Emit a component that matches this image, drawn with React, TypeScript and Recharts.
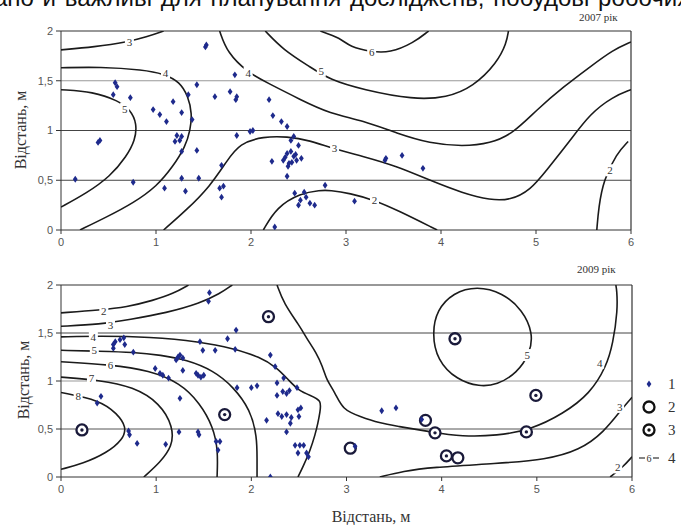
import React from 'react';
import { ScatterChart, Scatter, XAxis, YAxis, ReferenceLine } from 'recharts';

type Pt = { x: number; y: number };
type Lbl = { x: number; y: number; text: string };

const toPts = (arr: number[][]): Pt[] => arr.map(([x, y]) => ({ x, y }));
const toLbls = (arr: [number, number, string][]): Lbl[] => arr.map(([x, y, text]) => ({ x, y, text }));

const xTicks = [0, 1, 2, 3, 4, 5, 6];
const yTicks = [0, 0.5, 1, 1.5, 2];

// 2007: isolines
const iso07_3a = toPts([[0, 1.81], [0.35, 1.84], [0.7, 1.89], [0.9, 1.94], [1.08, 2]]);
const iso07_4a = toPts([
  [0, 1.63], [0.41, 1.64], [0.87, 1.61], [1.08, 1.57], [1.25, 1.49], [1.34, 1.34], [1.38, 1.17],
  [1.36, 1.0], [1.31, 0.84], [1.18, 0.64], [1.01, 0.44], [0.76, 0.27], [0.48, 0.13], [0.2, 0],
]);
const iso07_5a = toPts([
  [0, 1.41], [0.34, 1.39], [0.6, 1.3], [0.73, 1.21], [0.8, 1.07], [0.78, 0.9], [0.69, 0.74],
  [0.52, 0.54], [0.27, 0.37], [0, 0.23],
]);
const iso07_3b = toPts([
  [1.08, 0], [1.32, 0.2], [1.57, 0.44], [1.75, 0.7], [1.88, 0.87], [2.13, 0.94], [2.38, 0.94],
  [2.62, 0.9], [2.86, 0.82], [3.18, 0.74], [3.54, 0.64], [3.88, 0.5], [4.23, 0.37], [4.52, 0.3],
  [4.73, 0.3], [4.94, 0.4], [5.11, 0.6], [5.36, 0.9], [5.57, 1.17], [5.81, 1.34], [6, 1.41],
]);
const iso07_2a = toPts([
  [2.13, 0], [2.27, 0.23], [2.52, 0.37], [2.73, 0.4], [2.83, 0.4], [3.04, 0.37], [3.3, 0.3],
  [3.54, 0.2], [3.96, 0],
]);
const iso07_4b = toPts([
  [1.67, 2], [1.75, 1.78], [1.97, 1.58], [2.17, 1.48], [2.52, 1.31], [2.83, 1.17], [3.18, 1.1],
  [3.54, 0.97], [3.88, 0.87], [4.23, 0.84], [4.52, 0.87], [4.76, 0.97], [5.01, 1.21], [5.29, 1.44],
  [5.57, 1.64], [5.81, 1.81], [6, 1.89],
]);
const iso07_5b = toPts([
  [2.15, 2], [2.34, 1.81], [2.62, 1.64], [2.83, 1.51], [3.18, 1.41], [3.71, 1.31], [4.06, 1.33],
  [4.34, 1.44], [4.59, 1.68], [4.69, 1.88], [4.71, 2],
]);
const iso07_6 = toPts([
  [2.73, 2], [2.94, 1.93], [3.04, 1.84], [3.27, 1.79], [3.46, 1.78], [3.71, 1.88], [3.87, 2],
]);
const iso07_2b = toPts([[5.64, 0], [5.66, 0.23], [5.71, 0.5], [5.85, 0.77], [5.97, 0.89]]);

const labels07 = toLbls([
  [0.72, 1.89, '3'], [1.1, 1.58, '4'], [0.67, 1.22, '5'], [1.97, 1.58, '4'], [2.74, 1.6, '5'],
  [2.88, 0.82, '3'], [3.27, 1.79, '6'], [3.3, 0.3, '2'], [5.78, 0.6, '2'],
]);

const points07 = toPts([
  [0.15, 0.51], [0.39, 0.88], [0.41, 0.9], [0.57, 1.48], [0.59, 1.44], [0.55, 1.36], [0.73, 1.33],
  [0.76, 0.48], [0.97, 1.21], [1.04, 1.16], [1.11, 1.09], [1.18, 1.29], [1.27, 1.18], [1.34, 1.36],
  [1.43, 1.46], [1.38, 1.11], [1.22, 0.95], [1.2, 0.89], [1.27, 0.94], [1.25, 0.9], [1.27, 0.79],
  [1.43, 0.8], [1.09, 0.42], [1.27, 0.52], [1.31, 0.39], [1.45, 0.52], [1.52, 1.84], [1.53, 1.86],
  [1.62, 1.34], [1.69, 0.65], [1.67, 0.42], [1.71, 0.44], [1.69, 0.33], [1.83, 1.56], [1.78, 1.39],
  [1.85, 1.34], [1.84, 1.31], [1.85, 0.95], [1.99, 0.99], [2.02, 1.0], [2.19, 1.31], [2.23, 1.15],
  [2.22, 0.69], [2.25, 0.03], [2.32, 1.09], [2.38, 1.04], [2.45, 0.94], [2.5, 0.85], [2.42, 0.9],
  [2.38, 0.77], [2.45, 0.74], [2.34, 0.7], [2.39, 0.64], [2.48, 0.7], [2.53, 0.72], [2.42, 0.79],
  [2.36, 0.73], [2.43, 0.68], [2.4, 0.67], [2.47, 0.76], [2.38, 0.54], [2.46, 0.37], [2.52, 0.3],
  [2.56, 0.38], [2.5, 0.25], [2.62, 0.27], [2.67, 0.25], [2.58, 0.33], [2.78, 0.45], [3.41, 0.7],
  [3.42, 0.72], [3.59, 0.75], [3.81, 0.62], [3.09, 0.29],
]);

// 2009: isolines
const iso09_2a = toPts([[0, 1.71], [0.41, 1.74], [0.69, 1.77], [0.97, 1.84], [1.18, 1.91], [1.34, 2]]);
const iso09_3a = toPts([[0, 1.57], [0.41, 1.59], [0.72, 1.64], [1.11, 1.71], [1.46, 1.81], [1.67, 1.91], [1.8, 2]]);
const iso09_4a = toPts([
  [0, 1.46], [0.41, 1.47], [0.93, 1.46], [1.46, 1.41], [1.81, 1.34], [2.09, 1.25], [2.27, 1.14],
  [2.4, 1.0], [2.5, 0.9], [2.62, 0.85], [2.74, 0.8], [2.72, 0.67], [2.7, 0.56], [2.67, 0.44],
  [2.62, 0.28], [2.54, 0.1], [2.49, 0],
]);
const iso09_5a = toPts([
  [0, 1.32], [0.4, 1.31], [0.76, 1.3], [1.05, 1.27], [1.32, 1.22], [1.6, 1.11], [1.81, 0.94],
  [1.99, 0.7], [2.06, 0.42], [2.06, 0.18], [2.06, 0],
]);
const iso09_6 = toPts([
  [0, 1.2], [0.52, 1.17], [0.93, 1.11], [1.25, 0.98], [1.46, 0.77], [1.6, 0.52], [1.65, 0.28], [1.64, 0],
]);
const iso09_7 = toPts([
  [0, 1.04], [0.4, 1.01], [0.76, 0.94], [1.04, 0.77], [1.18, 0.52], [1.17, 0.32], [1.04, 0.15], [0.87, 0],
]);
const iso09_8 = toPts([
  [0, 0.88], [0.41, 0.8], [0.59, 0.66], [0.69, 0.52], [0.65, 0.39], [0.48, 0.25], [0.23, 0.14], [0, 0.08],
]);
const iso09_4b = toPts([
  [2.27, 2], [2.34, 1.81], [2.51, 1.57], [2.59, 1.43], [2.68, 1.3], [2.75, 1.15], [2.79, 1.01],
  [2.88, 0.88], [2.96, 0.7], [3.14, 0.63], [3.35, 0.56], [3.53, 0.53], [3.88, 0.47], [4.22, 0.42],
  [4.58, 0.43], [4.93, 0.49], [5.28, 0.66], [5.56, 0.87], [5.73, 1.15], [5.8, 1.39], [5.85, 1.74],
  [5.84, 1.95], [5.83, 2],
]);
const iso09_5ring = toPts([
  [4.37, 1.99], [4.64, 1.92], [4.85, 1.74], [4.96, 1.5], [4.93, 1.29], [4.79, 1.08], [4.58, 0.96],
  [4.4, 0.94], [4.16, 1.01], [3.95, 1.22], [3.9, 1.5], [3.95, 1.74], [4.12, 1.92],
]);
const iso09_3b = toPts([
  [3.35, 0], [3.6, 0.06], [3.88, 0.1], [4.58, 0.14], [5.1, 0.18], [5.45, 0.28], [5.7, 0.46],
  [5.91, 0.73], [6, 0.83],
]);
const iso09_2b = toPts([[5.77, 0], [5.9, 0.1], [6, 0.21]]);

const labels09 = toLbls([
  [0.45, 1.73, '2'], [0.52, 1.58, '3'], [0.34, 1.46, '4'], [0.35, 1.32, '5'], [0.52, 1.17, '6'],
  [0.32, 1.03, '7'], [0.18, 0.84, '8'], [4.9, 1.27, '5'], [5.66, 1.19, '4'], [5.87, 0.73, '3'],
  [5.85, 0.1, '2'],
]);

const points09 = toPts([
  [0.42, 0.84], [0.38, 0.77], [0.55, 1.38], [0.57, 1.41], [0.62, 1.43], [0.66, 1.45], [0.67, 1.38],
  [0.55, 1.34], [0.76, 1.3], [0.72, 0.44], [0.71, 0.48], [0.8, 0.35], [0.99, 1.13], [1.04, 1.08],
  [1.07, 1.06], [1.13, 1.03], [1.1, 0.34], [1.21, 1.22], [1.25, 1.27], [1.23, 1.25], [1.28, 1.24],
  [1.28, 1.11], [1.25, 0.82], [1.24, 0.47], [1.44, 1.06], [1.47, 1.04], [1.42, 1.08], [1.5, 1.06],
  [1.46, 1.41], [1.49, 1.32], [1.45, 0.44], [1.44, 0.47], [1.55, 1.83], [1.56, 1.92], [1.62, 1.32],
  [1.63, 0.37], [1.67, 0.37], [1.65, 0.28], [1.75, 1.44], [1.84, 1.53], [1.83, 1.33], [1.85, 0.93],
  [2.0, 0.93], [2.06, 0.95], [2.2, 1.27], [2.16, 0.59], [2.2, 0.0], [2.25, 1.15], [2.27, 0.98],
  [2.34, 1.03], [2.27, 0.85], [2.33, 0.89], [2.37, 0.87], [2.4, 0.9], [2.48, 0.93], [2.28, 0.66],
  [2.32, 0.63], [2.37, 0.65], [2.42, 0.62], [2.49, 0.7], [2.52, 0.72], [2.5, 0.63], [2.41, 0.56],
  [2.37, 0.47], [2.46, 0.33], [2.51, 0.33], [2.55, 0.33], [2.49, 0.25], [2.58, 0.25], [2.6, 0.21],
  [3.37, 0.69], [3.52, 0.72], [3.79, 0.6], [3.09, 0.32],
]);

// 2009: wells (open rings) and wells with centre mark
const rings09 = toPts([[4.17, 0.2], [3.83, 0.59], [3.04, 0.3]]);
const markedRings09 = toPts([
  [0.22, 0.49], [1.72, 0.65], [2.18, 1.67], [4.14, 1.44], [4.99, 0.85], [3.93, 0.46], [4.05, 0.22], [4.89, 0.47],
]);

const INK = '#1b1b1b';
const BLUE = '#1e2a8c';
const SERIF = '"Liberation Serif", "DejaVu Serif", serif';
const SANS = '"Liberation Sans", Arial, sans-serif';

const NoDot = () => <g />;

const Star = (p: any) => {
  const { cx, cy } = p;
  return (
    <path
      d={`M${cx},${cy - 3.4}L${cx + 2.4},${cy}L${cx},${cy + 3.4}L${cx - 2.4},${cy}Z`}
      fill={BLUE}
    />
  );
};

const Ring = (p: any) => (
  <circle cx={p.cx} cy={p.cy} r={5.5} fill="#fff" stroke="#1a1a3a" strokeWidth={2.3} />
);

const MarkedRing = (p: any) => (
  <g>
    <circle cx={p.cx} cy={p.cy} r={5.5} fill="#fff" stroke="#1a1a3a" strokeWidth={2.3} />
    <circle cx={p.cx} cy={p.cy} r={1.7} fill="#1a1a3a" />
  </g>
);

const IsoLabel = (p: any) => {
  const { cx, cy, payload } = p;
  return (
    <g>
      <rect x={cx - 4.5} y={cy - 6} width={9} height={12} fill="#fff" />
      <text x={cx} y={cy + 4} textAnchor="middle" fontSize={11} fontFamily={SERIF} fill="#333">
        {payload.text}
      </text>
    </g>
  );
};

const fmtY = (v: number) => String(v).replace('.', ',');

interface PanelProps {
  height: number;
  top: number;
  right: number;
  isolines: Pt[][];
  closed?: Pt[][];
  labels: Lbl[];
  points: Pt[];
  rings?: Pt[];
  markedRings?: Pt[];
  gridShade: string[];
}

function Panel({ height, top, right, isolines, closed = [], labels, points, rings = [], markedRings = [], gridShade }: PanelProps) {
  return (
    <ScatterChart width={681} height={height} margin={{ top, right, bottom: 0, left: 16 }}>
      <XAxis
        type="number"
        dataKey="x"
        domain={[0, 6]}
        ticks={xTicks}
        height={29}
        tickSize={4}
        tickMargin={4}
        stroke="#333"
        tick={{ fontSize: 11, fill: '#555', fontFamily: SANS }}
        allowDataOverflow
      />
      <YAxis
        type="number"
        dataKey="y"
        domain={[0, 2]}
        ticks={yTicks}
        width={45}
        tickSize={5}
        tickMargin={3}
        stroke="#333"
        tickFormatter={fmtY}
        tick={{ fontSize: 11, fill: '#555', fontFamily: SANS }}
        allowDataOverflow
      />
      <ReferenceLine y={0.5} stroke={gridShade[0]} strokeWidth={1} />
      <ReferenceLine y={1} stroke={gridShade[1]} strokeWidth={1} />
      <ReferenceLine y={1.5} stroke={gridShade[2]} strokeWidth={1} />
      <ReferenceLine y={2} stroke="#333" strokeWidth={1.2} />
      <ReferenceLine x={6} stroke="#333" strokeWidth={1.2} />
      {isolines.map((d, i) => (
        <Scatter
          key={`iso${i}`}
          data={d}
          line={{ stroke: INK, strokeWidth: 1.6 }}
          lineType="joint"
          lineJointType="basis"
          shape={NoDot}
          isAnimationActive={false}
        />
      ))}
      {closed.map((d, i) => (
        <Scatter
          key={`cl${i}`}
          data={d}
          line={{ stroke: INK, strokeWidth: 1.6 }}
          lineType="joint"
          lineJointType="basisClosed"
          shape={NoDot}
          isAnimationActive={false}
        />
      ))}
      <Scatter data={labels} shape={IsoLabel} isAnimationActive={false} />
      <Scatter data={rings} shape={Ring} isAnimationActive={false} />
      <Scatter data={markedRings} shape={MarkedRing} isAnimationActive={false} />
      <Scatter data={points} shape={Star} isAnimationActive={false} />
    </ScatterChart>
  );
}

const abs = (left: number, top: number): React.CSSProperties => ({ position: 'absolute', left, top });

export default function App() {
  return (
    <div style={{ position: 'absolute', left: 0, top: 0, width: 681, height: 525, background: '#fff', overflow: 'hidden' }}>
      {/* tail of the paragraph above the figure, clipped by the page edge */}
      <div
        style={{
          ...abs(-6, -14),
          fontFamily: SANS,
          fontSize: 24,
          lineHeight: '24px',
          wordSpacing: 2,
          whiteSpace: 'nowrap',
          color: '#111',
        }}
      >
        ано й важливі для планування досліджень, побудові робочих
      </div>

      <div style={{ ...abs(0, 0) }}>
        <Panel
          height={259}
          top={31}
          right={50}
          isolines={[iso07_3a, iso07_4a, iso07_5a, iso07_3b, iso07_2a, iso07_4b, iso07_5b, iso07_6, iso07_2b]}
          labels={labels07}
          points={points07}
          gridShade={['#444', '#444', '#999']}
        />
      </div>
      <div style={{ ...abs(0, 255) }}>
        <Panel
          height={251}
          top={30}
          right={49}
          isolines={[iso09_2a, iso09_3a, iso09_4a, iso09_5a, iso09_6, iso09_7, iso09_8, iso09_4b, iso09_3b, iso09_2b]}
          closed={[iso09_5ring]}
          labels={labels09}
          points={points09}
          rings={rings09}
          markedRings={markedRings09}
          gridShade={['#555', '#999', '#444']}
        />
      </div>

      <div style={{ ...abs(579, 11), fontFamily: SERIF, fontSize: 11, color: '#333', whiteSpace: 'nowrap' }}>2007 рік</div>
      <div style={{ ...abs(577, 263), fontFamily: SERIF, fontSize: 11, color: '#333', whiteSpace: 'nowrap' }}>2009 рік</div>

      <div
        style={{
          ...abs(21, 130),
          transform: 'translate(-50%, -50%) rotate(-90deg)',
          fontFamily: SERIF,
          fontSize: 16,
          color: '#333',
          whiteSpace: 'nowrap',
        }}
      >
        Відстань, м
      </div>
      <div
        style={{
          ...abs(24, 380),
          transform: 'translate(-50%, -50%) rotate(-90deg)',
          fontFamily: SERIF,
          fontSize: 16,
          color: '#333',
          whiteSpace: 'nowrap',
        }}
      >
        Відстань, м
      </div>
      <div
        style={{
          ...abs(371, 517),
          transform: 'translate(-50%, -50%)',
          fontFamily: SERIF,
          fontSize: 16,
          color: '#333',
          whiteSpace: 'nowrap',
        }}
      >
        Відстань, м
      </div>

      <svg width={50} height={100} style={{ ...abs(636, 372) }}>
        <path d="M13,8.6L15.4,12L13,15.4L10.6,12Z" fill={BLUE} />
        <circle cx={13} cy={35} r={5.5} fill="#fff" stroke="#111" strokeWidth={2.3} />
        <circle cx={13} cy={58} r={5.5} fill="#fff" stroke="#111" strokeWidth={2.3} />
        <circle cx={13} cy={58} r={1.7} fill="#111" />
        <line x1={3} y1={86} x2={23} y2={86} stroke="#333" strokeWidth={1.2} />
        <rect x={9} y={80} width={8} height={11} fill="#fff" />
        <text x={13} y={90} textAnchor="middle" fontSize={10} fontFamily={SERIF} fill="#333">6</text>
        <g fontFamily={SERIF} fontSize={15} fill="#333">
          <text x={32} y={17}>1</text>
          <text x={32} y={40}>2</text>
          <text x={32} y={63}>3</text>
          <text x={32} y={91}>4</text>
        </g>
      </svg>
    </div>
  );
}
